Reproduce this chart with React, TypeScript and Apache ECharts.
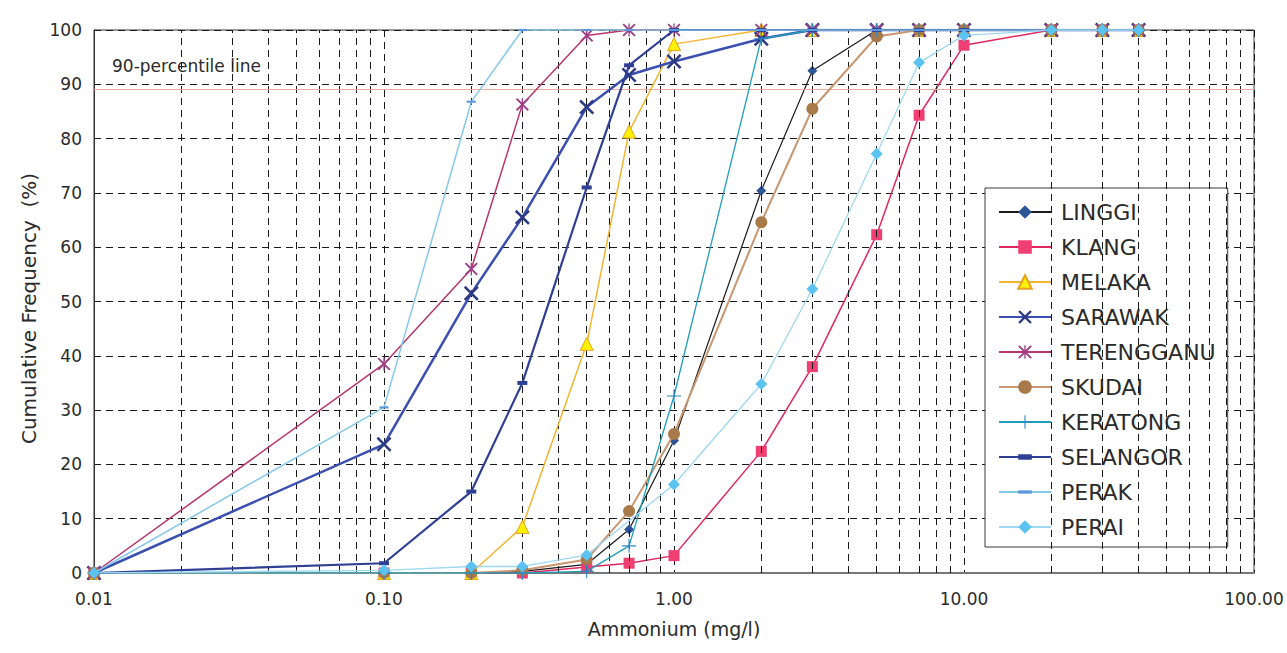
import React, { useEffect, useRef } from "react";
import * as echarts from "echarts";

const xValues = [0.01, 0.1, 0.2, 0.3, 0.5, 0.7, 1, 2, 3, 5, 7, 10, 20, 30, 40];

const linggi = [0, 0, 0, 0.3, 1.6, 8, 24.4, 70.4, 92.5, 100, 100, 100, 100, 100, 100];
const klang = [0, 0, 0, 0, 1.1, 1.8, 3.2, 22.4, 38, 62.3, 84.3, 97.2, 100, 100, 100];
const melaka = [0, 0, 0, 8.5, 42.2, 81.3, 97.4, 100, 100, 100, 100, 100, 100, 100, 100];
const sarawak = [0, 23.7, 51.5, 65.5, 85.8, 91.7, 94.2, 98.4, 100, 100, 100, 100, 100, 100, 100];
const terengganu = [0, 38.5, 56, 86.3, 99, 100, 100, 100, 100, 100, 100, 100, 100, 100, 100];
const skudai = [0, 0, 0, 0.5, 2.5, 11.4, 25.6, 64.6, 85.5, 98.8, 100, 100, 100, 100, 100];
const keratong = [0, 0, 0, 0, 0.3, 5, 32.6, 98.4, 100, 100, 100, 100, 100, 100, 100];
const selangor = [0, 1.8, 15, 35, 71, 93.5, 100, 100, 100, 100, 100, 100, 100, 100, 100];
const perak = [0, 30.5, 86.8, 100, 100, 100, 100, 100, 100, 100, 100, 100, 100, 100, 100];
const perai = [0, 0.5, 1.2, 1.2, 3.3, null, 16.3, 34.8, 52.3, 77.2, 94, 99, 100, 100, 100];

const minorGridX = [
  0.02, 0.03, 0.04, 0.05, 0.06, 0.07, 0.08, 0.09,
  0.2, 0.3, 0.4, 0.5, 0.6, 0.7, 0.8, 0.9,
  2, 3, 4, 5, 6, 7, 8, 9,
  20, 30, 40, 50, 60, 70, 80, 90,
];
const percentileLine = 89;
const percentileLabel = "90-percentile line";

const X_SYM = "path://M0,1.2L1.2,0L5,3.8L8.8,0L10,1.2L6.2,5L10,8.8L8.8,10L5,6.2L1.2,10L0,8.8L3.8,5Z";
const AST_SYM =
  "path://M0,1L1,0L5,4L9,0L10,1L6,5L10,9L9,10L5,6L1,10L0,9L4,5Z M4.5,0H5.5V10H4.5Z";
const PLUS_SYM = "path://M4.6,0H5.4V4.6H10V5.4H5.4V10H4.6V5.4H0V4.6H4.6Z";
const DASH_SYM = "path://M0,0M10,10M0,3H10V7H0Z";
const THIN_DASH_SYM = "path://M0,0M10,10M0,3.8H10V6.2H0Z";

type SDef = {
  name: string;
  data: (number | null)[];
  line: string;
  lineWidth: number;
  symbol: string;
  size: number;
  fill: string;
  border?: string;
};

const seriesDefs: SDef[] = [
  { name: "LINGGI", data: linggi, line: "#1a1a1a", lineWidth: 1.2, symbol: "diamond", size: 10, fill: "#2c5597" },
  { name: "KLANG", data: klang, line: "#e2275f", lineWidth: 1.5, symbol: "rect", size: 11, fill: "#f03f72" },
  { name: "MELAKA", data: melaka, line: "#f3b531", lineWidth: 1.5, symbol: "triangle", size: 13, fill: "#fff200", border: "#e8a020" },
  { name: "SARAWAK", data: sarawak, line: "#3a4fb0", lineWidth: 2.5, symbol: X_SYM, size: 15, fill: "#2d3a84" },
  { name: "TERENGGANU", data: terengganu, line: "#b8346d", lineWidth: 1.5, symbol: AST_SYM, size: 13, fill: "#9e3f86" },
  { name: "SKUDAI", data: skudai, line: "#c89670", lineWidth: 2, symbol: "circle", size: 12, fill: "#a87a4a" },
  { name: "KERATONG", data: keratong, line: "#1f9fb8", lineWidth: 1.3, symbol: PLUS_SYM, size: 14, fill: "#2b86c8" },
  { name: "SELANGOR", data: selangor, line: "#2e3f94", lineWidth: 2.2, symbol: DASH_SYM, size: 10, fill: "#2e3f94" },
  { name: "PERAK", data: perak, line: "#86c8ea", lineWidth: 1.5, symbol: THIN_DASH_SYM, size: 9, fill: "#5a98dc" },
  { name: "PERAI", data: perai, line: "#9fd8f2", lineWidth: 1.3, symbol: "diamond", size: 12, fill: "#5cc2f2" },
];

export default function App() {
  const ref = useRef<HTMLDivElement>(null);
  useEffect(() => {
    if (!ref.current) return;
    const chart = echarts.init(ref.current, null, { renderer: "svg" });
    const font = "'DejaVu Sans', 'Liberation Sans', Arial, sans-serif";
    const series: any[] = seriesDefs.map((s, i) => ({
      name: s.name,
      type: "line",
      z: 3 + i,
      data: xValues.map((x, j) => [x, s.data[j]]),
      connectNulls: true,
      symbol: s.symbol,
      symbolSize: s.size,
      showSymbol: true,
      lineStyle: { color: s.line, width: s.lineWidth },
      itemStyle: {
        color: s.fill,
        borderColor: s.border || s.fill,
        borderWidth: s.border ? 1 : 0,
      },
      emphasis: { disabled: true },
    }));
    series.unshift({
      name: "__grid",
      type: "line",
      z: 1,
      data: [],
      silent: true,
      markLine: {
        silent: true,
        symbol: ["none", "none"],
        label: { show: false },
        animation: false,
        data: [
          ...minorGridX.map((v) => ({
            xAxis: v,
            lineStyle: { color: "#1a1a1a", type: [7, 5], width: 1 },
          })),
          {
            yAxis: percentileLine,
            lineStyle: { color: "#f5a9a3", type: "solid", width: 1.2 },
          },
        ],
      },
    });
    chart.setOption({
      animation: false,
      backgroundColor: "#ffffff",
      textStyle: { fontFamily: font },
      grid: {
        left: 94,
        right: 33,
        top: 30,
        bottom: 80,
        show: true,
        borderColor: "#333",
        borderWidth: 1,
        backgroundColor: "transparent",
      },
      legend: {
        orient: "vertical",
        left: 985,
        top: 188,
        data: seriesDefs.map((s) => s.name),
        itemWidth: 52,
        itemHeight: 17,
        itemGap: 13,
        padding: [13, 12, 9, 13],
        backgroundColor: "#ffffff",
        borderColor: "#3a3a3a",
        borderWidth: 1,
        borderRadius: 0,
        selectedMode: false,
        textStyle: {
          fontSize: 22,
          color: "#2a2a2a",
          fontFamily: font,
          lineHeight: 22,
          padding: [0, 0, 0, 5],
        },
      },
      xAxis: {
        type: "log",
        logBase: 10,
        min: 0.01,
        max: 100,
        name: "Ammonium (mg/l)",
        nameLocation: "middle",
        nameGap: 46,
        nameTextStyle: { fontSize: 19, color: "#2a2a2a", fontFamily: font },
        axisLine: { show: true, lineStyle: { color: "#777", width: 2 } },
        axisTick: { show: false },
        axisLabel: {
          fontSize: 17,
          color: "#2a2a2a",
          margin: 17,
          fontFamily: font,
          formatter: (v: number) => v.toFixed(2),
        },
        splitLine: { show: true, lineStyle: { color: "#1a1a1a", type: [7, 5], width: 1 } },
      },
      yAxis: {
        type: "value",
        min: 0,
        max: 100,
        interval: 10,
        name: "Cumulative Frequency  (%)",
        nameLocation: "middle",
        nameRotate: 90,
        nameGap: 54,
        nameTextStyle: { fontSize: 20, color: "#2a2a2a", fontFamily: font, padding: [0, 14, 0, 0] },
        axisLine: { show: true, lineStyle: { color: "#333", width: 1 } },
        axisTick: { show: false },
        axisLabel: { fontSize: 17, color: "#2a2a2a", margin: 12, fontFamily: font },
        splitLine: { show: true, lineStyle: { color: "#1a1a1a", type: [7, 5], width: 1 } },
      },
      graphic: [
        {
          type: "text",
          left: 112,
          top: 57,
          silent: true,
          style: { text: percentileLabel, fontSize: 17, fill: "#2a2a2a", fontFamily: font },
        },
      ],
      series,
    });
    return () => chart.dispose();
  }, []);
  return (
    <div
      ref={ref}
      style={{ position: "fixed", left: 0, top: 0, width: 1287, height: 653, background: "#fff" }}
    />
  );
}
